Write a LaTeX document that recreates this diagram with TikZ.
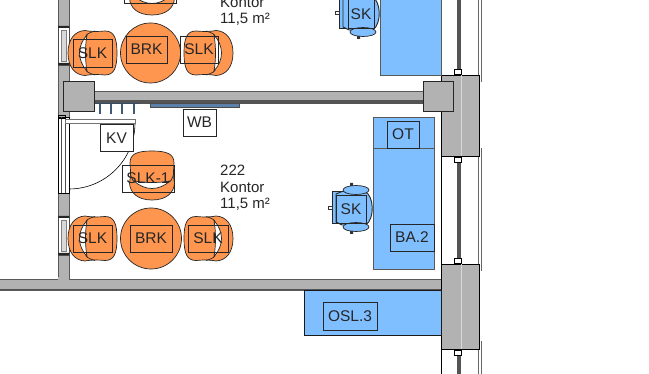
\documentclass[tikz,border=0pt]{standalone}
\usepackage{fontspec}
\setmainfont{Liberation Sans}
\definecolor{wallgray}{rgb}{0.70,0.70,0.70}
\definecolor{walldark}{rgb}{0.33,0.33,0.33}
\definecolor{seat}{rgb}{1.0,0.59,0.31}
\definecolor{desk}{rgb}{0.50,0.75,1.0}
\definecolor{board}{rgb}{0.36,0.50,0.66}
\definecolor{tagline}{rgb}{0.15,0.15,0.15}
\tikzset{
  wall/.style={draw=black!65, fill=wallgray, line width=0.8pt},
  deskpart/.style={draw=black!65, fill=desk, line width=0.8pt},
  tagbox/.style={draw=tagline, line width=0.7pt, inner sep=0pt, font=\fontsize{15.5}{15.5}\selectfont, text=black!85},
  whitebox/.style={tagbox, fill=white},
  roomtext/.style={inner sep=0pt, anchor=west, font=\fontsize{15}{15}\selectfont, text=black!85},
  winframe/.style={draw=black, fill=white, line width=0.7pt},
  thinline/.style={draw=black, line width=0.6pt},
  seatline/.style={draw=black!85, line width=0.7pt}
}
% visitor chair, back to the left
\newcommand{\slkchair}[3]{
  \begin{scope}[shift={(#1,#2)}, rotate=#3]
    \draw[seatline, fill=seat] (-8,-22.5) .. controls (-18,-22) and (-25,-14) .. (-25,0) .. controls (-25,14) and (-18,22) .. (-8,22.5) .. controls (0,21) and (6,21.5) .. (12,22) .. controls (21,22) and (24,15) .. (24,0) .. controls (24,-15) and (21,-22) .. (12,-22) .. controls (6,-21.5) and (0,-21) .. (-8,-22.5) -- cycle;
    \draw[seatline] (2,-22) .. controls (-5,-20) and (-7,-18) .. (-7,-17) (-7,17) .. controls (-7,18) and (-5,20) .. (2,22);
    \draw[seatline, fill=white] (-6,-18) .. controls (-16,-7) and (-16,7) .. (-6,18) .. controls (-8,7) and (-8,-7) .. (-6,-18) -- cycle;
  \end{scope}
}
% office chair, back to the left
\newcommand{\skchair}[2]{
  \begin{scope}[shift={(#1,#2)}]
    \draw[deskpart, draw=black!85, line width=1pt] (-19,-16) rectangle (-9,16);
    \draw[seatline, draw=black!85, fill=desk, line width=0.9pt] (-15,-14) -- (-9,-16.5) -- (14,-16.5) .. controls (23,-12) and (24,10) .. (15,17) -- (-9,17) -- (-15,14) -- cycle;
    \draw[seatline, draw=black!85, fill=desk] (5,-18) ellipse (13 and 4.5);
    \draw[seatline, draw=black!85, fill=desk] (5,19) ellipse (13 and 4.5);
    \fill[black!80] (-1,-25) rectangle (2,-22) (-1,23) rectangle (2,26);
    \draw[black!80, line width=0.8pt] (-22.5,-1.5) rectangle (-19,1.5);
  \end{scope}
}
\begin{document}
\begin{tikzpicture}[x=1pt,y=-1pt]
\useasboundingbox (0,0) rectangle (649,374);
\clip (0,0) rectangle (649,374);

% walls
  \draw[wall] (-2,279) -- (442,279) -- (442,290) -- (-2,290) -- cycle;
  \fill[walldark] (0,289) rectangle (441,290.5);
  \draw[wall] (58,-2) -- (69,-2) -- (69,279) -- (58,279) -- cycle;
  \fill[wallgray] (58.4,277) rectangle (68.6,281);
  \draw[wall] (94,91) rectangle (424,103.5);
  \fill[walldark] (94,100.5) rectangle (424,104);
  \foreach \tickx in {100,111,122,134}{
    \draw[board!70!black, line width=1.2pt] (\tickx,104) -- (\tickx,114);
  }
  \draw[board!60!black, line width=1pt] (94,104) -- (140,104);
  \draw[draw=black!70, fill=board, line width=0.5pt] (150,103.5) rectangle (239,107);

% windows left
  \foreach \winy/\winh in {26/39,216/39}{
    \draw[draw=black!70, fill=white, line width=0.7pt] (58,\winy) rectangle (69,\winy+\winh);
    \draw[draw=black!50, fill=black!15, line width=0.5pt] (61,\winy+4) rectangle (66,\winy+\winh-4);
    \fill[black!85] (58,\winy) rectangle (69,\winy+2) (58,\winy+\winh-2) rectangle (69,\winy+\winh);
  }

% door
  \draw[winframe] (58,117) rectangle (69,193);
  \draw[thinline, draw=black!70] (61,117) -- (61,193) (65,117) -- (65,193);
  \draw[winframe, fill=none, line width=1pt] (58,116) rectangle (65,119);
  \draw[thinline] (135,123) arc (0:90:66);
  \draw[draw=black!55, fill=white, line width=0.7pt] (65,119.5) rectangle (135,123.5);

% right side
  \draw[thinline] (441,-2) -- (441,376);
  \draw[draw=walldark, line width=4pt] (459,-2) -- (459,376);
  \draw[thinline, draw=black!60] (478,-2) -- (478,376) (481,-2) -- (481,82) (481,148) -- (481,271) (481,341) -- (481,376);
  \draw[wall, draw=black] (441,75) rectangle (479,156);
  \draw[wall, draw=black] (441,264) rectangle (479,349);
  \draw[white!85!black, line width=0.4pt] (461,75) -- (461,156) (461,264) -- (461,349);
  \foreach \clampy in {69,157,258,350}{
    \draw[winframe] (454.5,\clampy) rectangle (461.5,\clampy+5);
  }
  \draw[wall, draw=black!85, line width=1pt] (63,82) rectangle (94,112);
  \draw[wall, draw=black!85, line width=1pt] (423,82) rectangle (453,112);

% desks
  \draw[deskpart] (380,-2) -- (441,-2) -- (441,75) -- (380,75) -- cycle;
  \draw[deskpart] (373,117) rectangle (434,148);
  \draw[deskpart] (373.5,148) rectangle (434,269);
  \draw[deskpart, draw=black!90] (304,290) rectangle (441,335);

% chairs
  \slkchair{93}{53}{0}
  \slkchair{208}{53}{180}
  \slkchair{93}{238.5}{0}
  \slkchair{208}{238.5}{180}
  \slkchair{152}{175}{90}
  \slkchair{152}{-10}{90}
  \skchair{358}{13}
  \skchair{351}{208}

% tables
  \draw[seatline, fill=seat] (150.5,53) circle (30);
  \draw[seatline, fill=seat] (151,238.5) circle (30.5);

% labels
  \node[tagbox, minimum width=39pt, minimum height=28pt] (slkOne) at (92.5,53) {SLK};
  \node[tagbox, minimum width=41pt, minimum height=27pt] (brkOne) at (146.5,49.5) {BRK};
  \node[tagbox, minimum width=38pt, minimum height=27pt] (slkTwo) at (199,49.5) {SLK};
  \node[tagbox, minimum width=39pt, minimum height=27pt] (slkThree) at (92.5,238.5) {SLK};
  \node[tagbox, minimum width=42pt, minimum height=27pt] (brkTwo) at (151,238.5) {BRK};
  \node[tagbox, minimum width=40pt, minimum height=27pt] (slkFour) at (208,238.5) {SLK};
  \node[tagbox, minimum width=52pt, minimum height=27pt] (slkFive) at (148,178.5) {SLK-1};
  \node[tagbox, minimum width=52pt, minimum height=27pt] (slkSix) at (150,-10) {};
  \node[whitebox, minimum width=33pt, minimum height=27pt] (wbTag) at (199.5,122.5) {WB};
  \node[whitebox, minimum width=33pt, minimum height=27pt] (kvTag) at (116.5,138) {KV};
  \node[tagbox, minimum width=26pt, minimum height=29pt] (skOne) at (361,14) {SK};
  \node[tagbox, minimum width=30pt, minimum height=28pt] (skTwo) at (351,209) {SK};
  \node[tagbox, minimum width=32pt, minimum height=27pt] (otTag) at (403,134.5) {OT};
  \node[tagbox, minimum width=44pt, minimum height=27pt] (baTag) at (412,237.5) {BA.2};
  \node[tagbox, minimum width=54pt, minimum height=28pt] (oslTag) at (350,316) {OSL.3};

% room text
  \node[roomtext] (roomTop) at (220,2.5) {Kontor};
  \node[roomtext] (areaTop) at (220,19) {11,5 m²};
  \node[roomtext] (roomNo) at (220,170) {222};
  \node[roomtext] (roomName) at (220,187) {Kontor};
  \node[roomtext] (roomArea) at (220,204) {11,5 m²};

\end{tikzpicture}
\end{document}
